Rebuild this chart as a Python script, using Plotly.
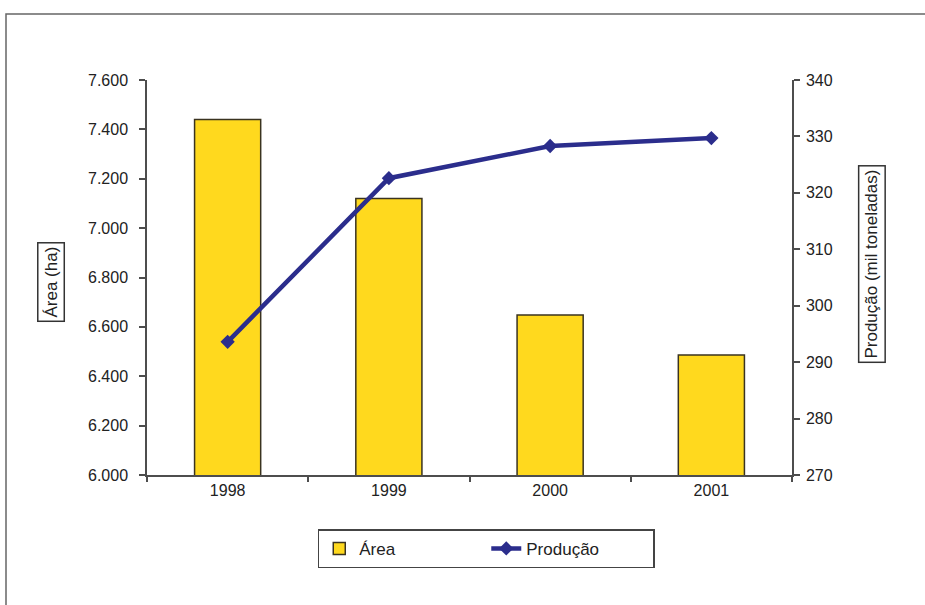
import plotly.graph_objects as go

anos = ["1998", "1999", "2000", "2001"]
area_ha = [7440, 7120, 6648, 6486]
producao_mil_t = [293.6, 322.6, 328.3, 329.7]

FONT = "Liberation Sans, Arial, sans-serif"
AXC = "#4d4d4d"

fig = go.Figure()
fig.add_trace(go.Bar(
    x=anos, y=area_ha, name="Área", width=0.41,
    marker=dict(color="#FFD91E", line=dict(color="#3a3320", width=1.5)),
    yaxis="y",
))
fig.add_trace(go.Scatter(
    x=anos, y=producao_mil_t, name="Produção", mode="lines+markers",
    line=dict(color="#2B2D8C", width=4.5),
    marker=dict(symbol="diamond", size=11, color="#2B2D8C"),
    yaxis="y2",
))

fig.update_layout(
    width=925, height=605,
    margin=dict(l=147, r=133, t=80, b=130),
    paper_bgcolor="white", plot_bgcolor="white",
    separators=",.",
    font=dict(family=FONT, size=16, color="#222"),
    showlegend=True,
    legend=dict(
        orientation="h", x=0.526, xanchor="center", y=-0.187, yanchor="middle",
        bordercolor="#444", borderwidth=1.5, bgcolor="white",
        font=dict(size=17), entrywidth=122, entrywidthmode="pixels",
    ),
    xaxis=dict(
        type="category", range=[-0.5, 3.5], showgrid=False,
        showline=True, linecolor=AXC, linewidth=1.5,
        ticks="outside", ticklen=5, tickcolor=AXC, tickwidth=1.5,
        tickson="boundaries", tickfont=dict(size=16),
    ),
    yaxis=dict(
        range=[6000, 7600], dtick=200, tickformat=",.0f", showgrid=False,
        showline=True, linecolor=AXC, linewidth=1.5,
        ticks="outside", ticklen=6, tickcolor=AXC, tickwidth=1.5,
        tickfont=dict(size=16), zeroline=False, ticklabelstandoff=8,
    ),
    yaxis2=dict(
        range=[270, 340], dtick=10, overlaying="y", side="right", showgrid=False,
        showline=True, linecolor=AXC, linewidth=1.5,
        ticks="outside", ticklen=6, tickcolor=AXC, tickwidth=1.5,
        tickfont=dict(size=16), zeroline=False, ticklabelstandoff=3,
    ),
    annotations=[
        dict(text="Área (ha)", xref="paper", yref="paper", x=-0.1488, y=0.4886,
             textangle=-90, showarrow=False, font=dict(size=17),
             bordercolor="#333", borderwidth=1.5, borderpad=3,
             xanchor="center", yanchor="middle"),
        dict(text="Produção (mil toneladas)", xref="paper", yref="paper", x=1.124, y=0.534,
             textangle=-90, showarrow=False, font=dict(size=17),
             bordercolor="#333", borderwidth=1.5, borderpad=3,
             xanchor="center", yanchor="middle"),
    ],
    shapes=[
        dict(type="rect", xref="paper", yref="paper", x0=-0.2186, x1=1.4, y0=-0.5, y1=1.167,
             line=dict(color="#666", width=1.5), layer="below"),
    ],
)

fig.write_html("out.html")
